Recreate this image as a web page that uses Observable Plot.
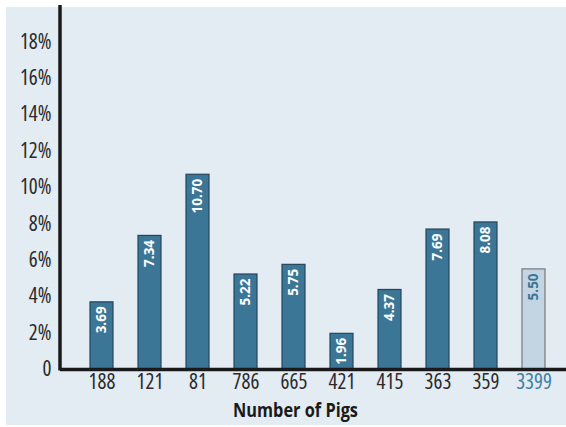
<!DOCTYPE html>
<html>
<head>
<meta charset="utf-8">
<script src="https://cdn.jsdelivr.net/npm/d3@7"></script>
<script src="https://cdn.jsdelivr.net/npm/@observablehq/plot@0.6"></script>
<style>
  html, body { margin: 0; padding: 0; background: #ffffff; }
  #wrap { position: relative; width: 566px; height: 427px; overflow: hidden; }
  #panel { position: absolute; left: 6px; top: 7px; right: 0; bottom: 2px; background: #e3ebf3; }
  #chart { position: absolute; left: 0; top: 0; }
  #chart svg { background: transparent; }
  #chart g[aria-label="y-axis tick label"],
  #chart g[aria-label="x-axis tick label"] { font-stretch: condensed; }
</style>
</head>
<body>
<div id="wrap"><div id="panel"></div><div id="chart"></div></div>
<script>
const categories = ["188", "121", "81", "786", "665", "421", "415", "363", "359", "3399"];
const values = [3.69, 7.34, 10.70, 5.22, 5.75, 1.96, 4.37, 7.69, 8.08, 5.50];
const isTotal = [false, false, false, false, false, false, false, false, false, true];
const yTicks = [0, 2, 4, 6, 8, 10, 12, 14, 16, 18];
const xTitle = "Number of Pigs";

const data = categories.map((c, i) => ({cat: c, value: values[i], total: isTotal[i]}));

const fam = "'Open Sans', 'DejaVu Sans', sans-serif";

const yAxisLine = (index, scales, values, dims) => {
  const line = document.createElementNS("http://www.w3.org/2000/svg", "line");
  line.setAttribute("x1", dims.marginLeft);
  line.setAttribute("x2", dims.marginLeft);
  line.setAttribute("y1", scales.y(20));
  line.setAttribute("y2", scales.y(0) + 1.5);
  line.setAttribute("stroke", "#1a1a1a");
  line.setAttribute("stroke-width", 3.5);
  return line;
};

const chart = Plot.plot({
  width: 566,
  height: 427,
  marginLeft: 60,
  marginRight: 0,
  marginTop: 5,
  marginBottom: 58,
  style: {background: "transparent", fontFamily: fam, fontSize: "20px", color: "#2a2a2a"},
  x: {domain: categories, range: [62.5, 572.5], padding: 0.53, label: null},
  y: {domain: [0, 20], label: null},
  marks: [
    Plot.barY(data, {
      x: "cat", y: "value",
      fill: d => d.total ? "#c3d5e3" : "#3b7696",
      stroke: d => d.total ? "#777777" : "#27455a",
      strokeWidth: 1.2
    }),
    Plot.text(data, {
      x: "cat", y: "value",
      text: d => d.value.toFixed(2),
      rotate: -90,
      textAnchor: "end",
      lineAnchor: "middle",
      dy: 4,
      fill: d => d.total ? "#3b7696" : "#ffffff",
      fontFamily: "'Open Sans', sans-serif",
      fontWeight: "bold",
      fontSize: 13.5
    }),
    Plot.axisY({
      ticks: yTicks,
      tickSize: 0,
      tickPadding: 9,
      tickFormat: d => d === 0 ? "0" : d + "%",
      fontSize: 21,
      fill: "#2a2a2a"
    }),
    Plot.axisX({
      tickSize: 0,
      tickPadding: 5,
      fontSize: 21,
      fill: d => d === "3399" ? "#3e7fa3" : "#2a2a2a"
    }),
    yAxisLine,
    Plot.ruleY([0], {stroke: "#1a1a1a", strokeWidth: 3.5}),
    Plot.text([xTitle], {
      frameAnchor: "bottom",
      dx: -18,
      dy: 47,
      fontFamily: fam,
      fontWeight: "bold",
      fontSize: 20,
      fill: "#1a1a1a"
    })
  ]
});
for (const t of chart.querySelectorAll("text")) {
  if (t.textContent === xTitle) {
    t.setAttribute("textLength", 125);
    t.setAttribute("lengthAdjust", "spacingAndGlyphs");
  }
}
document.getElementById("chart").appendChild(chart);
</script>
</body>
</html>
